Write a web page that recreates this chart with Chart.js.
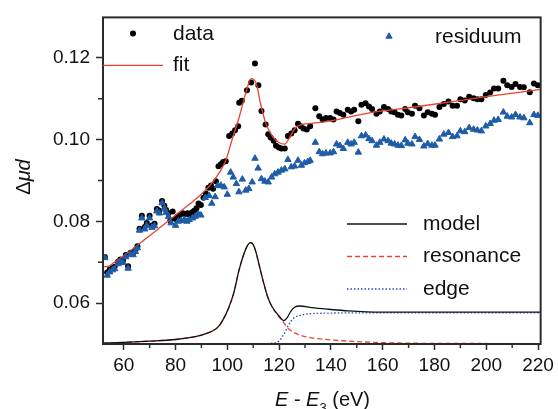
<!DOCTYPE html>
<html>
<head>
<meta charset="utf-8">
<script src="https://cdn.jsdelivr.net/npm/chart.js@4.4.1/dist/chart.umd.min.js"></script>
<style>
	html, body { margin: 0; padding: 0; background: #fff; }
	#wrap { width: 558px; height: 409px; position: relative; }
</style>
</head>
<body>
<div id="wrap"><canvas id="xasChart"></canvas></div>
<script>
// measured points (energy above edge, eV) and absorption
const dataE = [52.7, 53.6, 54.6, 55.7, 56.5, 57.8, 58.7, 59.7, 60.8, 61.7, 62.6, 63.6, 64.5, 65.3, 66.1, 67.0, 68.1, 68.9, 70.0, 70.9,
	71.9, 72.8, 73.8, 74.8, 75.7, 76.4, 77.3, 78.0, 78.9, 80.0, 80.8, 81.8, 82.8, 83.7, 84.6, 85.3, 86.4, 87.2, 88.1, 88.9,
	89.8, 90.8, 91.7, 92.7, 93.7, 94.5, 95.6, 96.6, 97.5, 98.4, 99.4, 100.7, 101.9, 103.0, 104.2, 104.6, 105.6, 107.6, 109.2, 110.7,
	112.0, 113.2, 114.8, 115.8, 116.7, 117.9, 118.8, 119.9, 120.9, 122.2, 123.4, 124.7, 126.0, 127.3, 128.4, 129.4, 130.7, 132.0, 134.0, 135.5,
	136.8, 138.1, 139.7, 141.0, 142.2, 143.5, 144.8, 146.5, 147.8, 149.0, 150.6, 151.8, 153.4, 154.7, 155.9, 157.6, 158.9, 160.5, 162.1, 163.3,
	164.6, 165.9, 167.2, 168.7, 169.7, 171.3, 172.5, 174.2, 175.9, 177.4, 179.0, 180.2, 181.9, 183.6, 185.4, 187.0, 188.7, 190.0, 191.7, 193.4,
	195.1, 196.6, 198.1, 199.8, 201.5, 203.0, 204.6, 206.6, 208.1, 209.8, 211.3, 213.0, 214.5, 216.8, 218.4, 219.9];
const dataV = [0.0713, 0.0675, 0.0682, 0.0686, 0.0689, 0.0701, 0.0707, 0.0704, 0.0718, 0.0690, 0.0723, 0.0722, 0.0730, 0.0739, 0.0782, 0.0814, 0.0786, 0.0796, 0.0814, 0.0790,
	0.0794, 0.0830, 0.0826, 0.0850, 0.0838, 0.0828, 0.0820, 0.0802, 0.0824, 0.0806, 0.0812, 0.0816, 0.0820, 0.0818, 0.0820, 0.0816, 0.0822, 0.0826, 0.0832, 0.0844,
	0.0840, 0.0858, 0.0868, 0.0882, 0.0888, 0.0880, 0.0898, 0.0935, 0.0940, 0.0945, 0.0947, 0.1009, 0.1015, 0.1023, 0.1033, 0.1090, 0.1095, 0.1121, 0.1140, 0.1186,
	0.1133, 0.1070, 0.1037, 0.1013, 0.1005, 0.0997, 0.0985, 0.0981, 0.0978, 0.0978, 0.1009, 0.1015, 0.1023, 0.1039, 0.1033, 0.1027, 0.1025, 0.1033, 0.1077, 0.1057,
	0.1049, 0.1053, 0.1053, 0.1049, 0.1069, 0.1065, 0.1061, 0.1073, 0.1069, 0.1073, 0.1045, 0.1085, 0.1089, 0.1081, 0.1075, 0.1063, 0.1069, 0.1080, 0.1075, 0.1069,
	0.1067, 0.1061, 0.1059, 0.1075, 0.1067, 0.1063, 0.1083, 0.1077, 0.1059, 0.1067, 0.1063, 0.1061, 0.1080, 0.1087, 0.1093, 0.1083, 0.1083, 0.1099, 0.1096, 0.1105,
	0.1101, 0.1099, 0.1099, 0.1109, 0.1115, 0.1125, 0.1125, 0.1144, 0.1133, 0.1129, 0.1136, 0.1129, 0.1128, 0.1116, 0.1137, 0.1133];

const residE = [52.7, 53.6, 54.6, 55.7, 56.5, 57.8, 58.7, 59.7, 60.8, 61.7, 62.6, 63.6, 64.5, 65.3, 66.1, 67.0, 68.1, 68.9, 70.0, 70.9,
	71.9, 72.8, 73.8, 74.8, 75.7, 76.4, 77.3, 78.3, 80.0, 81.1, 82.2, 83.4, 84.4, 85.3, 86.6, 87.6, 88.8, 89.8, 91.5, 93.0,
	94.0, 95.3, 96.2, 97.5, 98.8, 100.0, 101.3, 102.3, 103.5, 104.5, 105.8, 107.1, 108.3, 109.6, 110.7, 111.9, 113.2, 114.5, 115.8, 117.1,
	118.3, 119.6, 120.9, 122.2, 123.4, 124.7, 126.0, 127.3, 128.6, 129.8, 131.1, 132.0, 134.0, 135.5, 136.8, 138.1, 139.7, 141.0, 142.2, 143.5,
	144.8, 146.5, 147.8, 149.0, 150.6, 151.8, 153.4, 154.7, 155.9, 157.6, 158.9, 160.5, 162.1, 163.3, 164.6, 165.9, 167.2, 168.7, 169.7, 171.3,
	172.5, 174.2, 175.9, 177.4, 179.0, 180.2, 181.9, 183.6, 185.4, 187.0, 188.7, 190.0, 191.7, 193.4, 195.1, 196.6, 198.1, 199.8, 201.5, 203.0,
	204.6, 206.6, 208.1, 209.8, 211.3, 213.0, 214.5, 216.8, 218.4, 219.9];
const residV = [0.0711, 0.0668, 0.0676, 0.0681, 0.0684, 0.0696, 0.0702, 0.0699, 0.0713, 0.0685, 0.0719, 0.0718, 0.0726, 0.0735, 0.0778, 0.0808, 0.0781, 0.0790, 0.0808, 0.0785,
	0.0789, 0.0825, 0.0820, 0.0845, 0.0832, 0.0822, 0.0812, 0.0796, 0.0790, 0.0800, 0.0802, 0.0804, 0.0800, 0.0804, 0.0808, 0.0812, 0.0818, 0.0815, 0.0858, 0.0863,
	0.0844, 0.0860, 0.0887, 0.0888, 0.0884, 0.0866, 0.0920, 0.0908, 0.0892, 0.0872, 0.0903, 0.0876, 0.0880, 0.0896, 0.0954, 0.0930, 0.0904, 0.0898, 0.0896, 0.0908,
	0.0916, 0.0920, 0.0925, 0.0928, 0.0951, 0.0933, 0.0935, 0.0949, 0.0937, 0.0943, 0.0946, 0.0949, 0.0993, 0.0970, 0.0965, 0.0967, 0.0967, 0.0970, 0.0989, 0.0985,
	0.0978, 0.0993, 0.0989, 0.0993, 0.0969, 0.1009, 0.1011, 0.1002, 0.0997, 0.0986, 0.0993, 0.1001, 0.0997, 0.0991, 0.0989, 0.0986, 0.0985, 0.0999, 0.0991, 0.0989,
	0.1007, 0.1000, 0.0984, 0.0990, 0.0986, 0.0986, 0.1001, 0.1013, 0.1017, 0.1007, 0.1009, 0.1021, 0.1019, 0.1029, 0.1025, 0.1023, 0.1021, 0.1033, 0.1039, 0.1047,
	0.1049, 0.1067, 0.1057, 0.1055, 0.1061, 0.1055, 0.1053, 0.1041, 0.1061, 0.1059];

const fitE = [52, 54, 56, 60, 65, 70, 75, 80, 85, 89.2, 94.3, 99.4, 101.9, 104.5, 107.1, 109.2, 111.2, 112.8, 114.8, 117.3,
	119.9, 122.2, 124.4, 126.3, 128.8, 131.4, 140, 154.4, 173.6, 200, 221];
const fitV = [0.0689, 0.0690, 0.0698, 0.0716, 0.0740, 0.0765, 0.0790, 0.0815, 0.0840, 0.0862, 0.0896, 0.0949, 0.1001, 0.1053, 0.1113, 0.1149, 0.1137, 0.1089, 0.1041, 0.1009,
	0.0993, 0.0989, 0.1009, 0.1029, 0.1037, 0.1039, 0.1046, 0.1065, 0.1081, 0.1105, 0.1123];

const modelE = [52, 60, 70, 80, 86, 90, 94, 96.5, 98.5, 100.5, 102.5, 104.5, 106.5, 108, 109, 110, 111, 112.5, 114, 115.5,
	117.3, 119.9, 121.8, 123.2, 124.5, 126, 128, 132.6, 139, 146.7, 159.4, 221];
const modelV = [0.0502, 0.0504, 0.0507, 0.0511, 0.0516, 0.0522, 0.0531, 0.0542, 0.0561, 0.0588, 0.0625, 0.0680, 0.0722, 0.0743, 0.0748, 0.0743, 0.0726, 0.0688, 0.0650, 0.0617,
	0.0591, 0.0569, 0.0557, 0.0565, 0.0580, 0.0590, 0.0593, 0.0589, 0.0585, 0.0581, 0.0578, 0.0578];

const resonE = [52, 60, 70, 80, 86, 90, 94, 96.5, 98.5, 100.5, 102.5, 104.5, 106.5, 108, 109, 110, 111, 112.5, 114, 115.5,
	117.3, 119.9, 121.8, 123.7, 125.5, 127.5, 132.6, 140, 153, 170, 221];
const resonV = [0.0502, 0.0504, 0.0507, 0.0511, 0.0516, 0.0522, 0.0531, 0.0542, 0.0561, 0.0588, 0.0625, 0.0680, 0.0722, 0.0743, 0.0748, 0.0743, 0.0726, 0.0688, 0.0650, 0.0617,
	0.0591, 0.0567, 0.0552, 0.0537, 0.0529, 0.0523, 0.0515, 0.0510, 0.0505, 0.0502, 0.0501];

const edgeE = [52, 112, 117, 119.9, 121.8, 123.7, 125.6, 128.8, 135.2, 150, 221];
const edgeV = [0.0500, 0.0500, 0.0502, 0.0507, 0.0523, 0.0547, 0.0563, 0.0571, 0.0575, 0.0576, 0.0576];

const xMinorTicks = [70, 90, 110, 130, 150, 170, 190, 210];
const yMinorTicks = [0.07, 0.09, 0.11];

const FONT = "'Liberation Sans', Arial, sans-serif";
const AXIS = '#2b2b2b';
const BLUE = '#1f5ca8';
const RED = '#e8432e';

function pts(xs, ys) {
	return xs.map(function(x, i) { return { x: x, y: ys[i] }; });
}

function curve(label, xs, ys, color, dash, order) {
	return {
		label: label,
		data: pts(xs, ys),
		showLine: true,
		borderColor: color,
		borderWidth: 1.3,
		borderDash: dash,
		pointRadius: 0,
		tension: 0.4,
		cubicInterpolationMode: 'monotone',
		fill: false,
		order: order
	};
}

// frame, minor ticks, legends and axis titles
const decor = {
	id: 'decor',
	afterDraw: function(chart) {
		const c = chart.ctx;
		const a = chart.chartArea;
		const xs = chart.scales.x;
		const ys = chart.scales.y;
		c.save();
		c.strokeStyle = AXIS;
		c.lineWidth = 2;
		c.strokeRect(a.left, a.top, a.right - a.left, a.bottom - a.top);

		c.lineWidth = 1.4;
		c.beginPath();
		xMinorTicks.forEach(function(v) {
			const px = xs.getPixelForValue(v);
			c.moveTo(px, a.bottom);
			c.lineTo(px, a.bottom + 4);
		});
		yMinorTicks.forEach(function(v) {
			const py = ys.getPixelForValue(v);
			c.moveTo(a.left, py);
			c.lineTo(a.left - 5, py);
		});
		c.stroke();

		c.font = '21px ' + FONT;
		c.textBaseline = 'middle';
		c.textAlign = 'left';

		// top-left legend
		c.fillStyle = '#000';
		c.beginPath();
		c.arc(a.left + 30, a.top + 16, 3, 0, Math.PI * 2);
		c.fill();
		c.fillStyle = '#111';
		c.fillText('data', a.left + 70, a.top + 17);
		c.strokeStyle = RED;
		c.lineWidth = 1.3;
		c.beginPath();
		c.moveTo(a.left, a.top + 48);
		c.lineTo(a.left + 60, a.top + 48);
		c.stroke();
		c.fillText('fit', a.left + 70, a.top + 48);

		// residuum legend
		c.fillStyle = BLUE;
		c.strokeStyle = BLUE;
		c.lineWidth = 1;
		Chart.helpers.drawPoint(c, { pointStyle: 'triangle', radius: 3.6, borderWidth: 1 }, 389, a.top + 19);
		c.fillStyle = '#111';
		c.fillText('residuum', 435, a.top + 20);

		// model legend
		const rows = [
			{ t: 'model', color: '#111', dash: [] },
			{ t: 'resonance', color: RED, dash: [5, 3] },
			{ t: 'edge', color: '#2a48b8', dash: [1.5, 2] }
		];
		rows.forEach(function(r, i) {
			const y = 224 + i * 32.5;
			c.strokeStyle = r.color;
			c.setLineDash(r.dash);
			c.lineWidth = 1.3;
			c.beginPath();
			c.moveTo(347, y);
			c.lineTo(407, y);
			c.stroke();
			c.setLineDash([]);
			c.fillStyle = '#111';
			c.fillText(r.t, 423, y);
		});

		// y title
		c.save();
		c.translate(24, 177);
		c.rotate(-Math.PI / 2);
		c.textAlign = 'left';
		c.font = '20px ' + FONT;
		const w1 = c.measureText('\u0394').width;
		c.font = 'italic 20px ' + FONT;
		const w2 = c.measureText('\u03bcd').width;
		const x0 = -(w1 + w2) / 2;
		c.font = '20px ' + FONT;
		c.fillText('\u0394', x0, 0);
		c.font = 'italic 20px ' + FONT;
		c.fillText('\u03bcd', x0 + w1, 0);
		c.restore();

		// x title, clipped at the bottom edge like the original
		c.textBaseline = 'alphabetic';
		let x = 275;
		const yb = 406;
		const parts = [
			{ t: 'E', f: 'italic 20px ' + FONT, dy: 0 },
			{ t: ' - ', f: '20px ' + FONT, dy: 0 },
			{ t: 'E', f: 'italic 20px ' + FONT, dy: 0 },
			{ t: '3', f: '13px ' + FONT, dy: 6 },
			{ t: ' (eV)', f: '20px ' + FONT, dy: 0 }
		];
		parts.forEach(function(p) {
			c.font = p.f;
			c.fillText(p.t, x, yb + p.dy);
			x += c.measureText(p.t).width;
		});
		c.restore();
	}
};

new Chart(document.getElementById('xasChart').getContext('2d'), {
	type: 'scatter',
	data: {
		datasets: [
			{
				label: 'residuum',
				data: pts(residE, residV),
				pointStyle: 'triangle',
				pointRadius: 3.7,
				backgroundColor: BLUE,
				borderColor: BLUE,
				borderWidth: 1,
				order: 1
			},
			curve('fit', fitE, fitV, RED, [], 2),
			{
				label: 'data',
				data: pts(dataE, dataV),
				pointStyle: 'circle',
				pointRadius: 3,
				backgroundColor: '#000',
				borderColor: '#000',
				borderWidth: 0,
				order: 3
			},
			curve('model', modelE, modelV, '#111', [], 4),
			curve('resonance', resonE, resonV, RED, [5, 3], 5),
			curve('edge', edgeE, edgeV, '#2a48b8', [1.5, 2], 6)
		]
	},
	options: {
		responsive: true,
		maintainAspectRatio: false,
		animation: false,
		events: [],
		layout: { padding: { top: 13, right: 15, left: 0, bottom: 0 } },
		plugins: { legend: { display: false }, tooltip: { enabled: false } },
		scales: {
			x: {
				type: 'linear',
				min: 52,
				max: 221,
				afterFit: function(s) { s.height = 65; },
				border: { display: false },
				grid: { drawOnChartArea: false, tickLength: 6, tickColor: AXIS, tickWidth: 1.5 },
				ticks: {
					stepSize: 20,
					includeBounds: false,
					padding: 4,
					color: '#111',
					font: { family: FONT, size: 19 },
					maxRotation: 0
				}
			},
			y: {
				type: 'linear',
				min: 0.05,
				max: 0.1299,
				afterFit: function(s) { s.width = 103; },
				border: { display: false },
				grid: { drawOnChartArea: false, tickLength: 7, tickColor: AXIS, tickWidth: 1.5 },
				ticks: {
					stepSize: 0.02,
					includeBounds: false,
					padding: 6,
					color: '#111',
					font: { family: FONT, size: 19 },
					callback: function(v) { return v.toFixed(2); }
				}
			}
		}
	},
	plugins: [decor]
});
</script>
</body>
</html>
